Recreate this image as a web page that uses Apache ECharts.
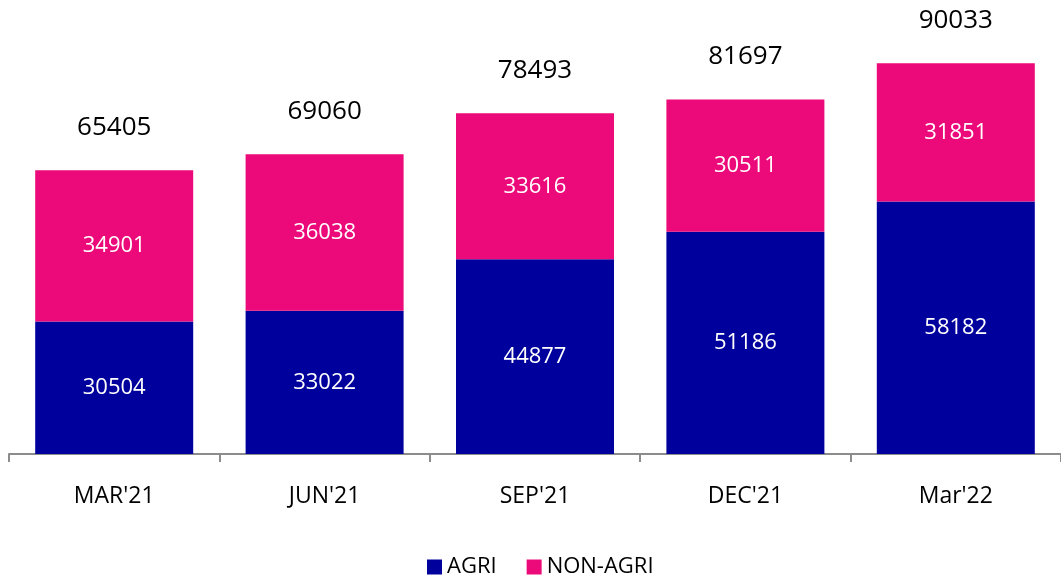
<!DOCTYPE html>
<html>
<head>
<meta charset="utf-8">
<script src="https://cdn.jsdelivr.net/npm/echarts@6/dist/echarts.min.js"></script>
<style>
  html, body { margin: 0; padding: 0; background: #fff; }
  #main { width: 1061px; height: 576px; }
</style>
</head>
<body>
<div id="main"></div>
<script>
// data
var categories = ["MAR'21", "JUN'21", "SEP'21", "DEC'21", "Mar'22"];
var agri = [30504, 33022, 44877, 51186, 58182];
var nonAgri = [34901, 36038, 33616, 30511, 31851];
var totals = [65405, 69060, 78493, 81697, 90033];

var FONT = '"Open Sans", "Noto Sans", sans-serif';

var myChart = echarts.init(document.getElementById('main'));
var option = {
    animation: false,
    textStyle: { fontFamily: FONT },
    grid: { left: 9, right: -5, top: 20, bottom: 122 },
    legend: {
        data: ['AGRI', 'NON-AGRI'],
        left: 422,
        top: 551,
        icon: 'rect',
        itemWidth: 15,
        itemHeight: 15,
        itemGap: 30,
        textStyle: { fontFamily: FONT, fontSize: 22, color: '#000' }
    },
    xAxis: {
        type: 'category',
        data: categories,
        axisLine: { lineStyle: { color: '#8c8c8c', width: 2 } },
        axisTick: { show: true, length: 8, lineStyle: { color: '#8c8c8c', width: 2 } },
        axisLabel: { fontFamily: FONT, fontSize: 23, color: '#000', margin: 31 }
    },
    yAxis: {
        type: 'value',
        min: 0,
        max: 100000,
        show: false,
        splitLine: { show: false }
    },
    series: [
        {
            name: 'AGRI',
            type: 'bar',
            stack: 'total',
            barWidth: 158,
            data: agri,
            itemStyle: { color: '#00009c' },
            label: { show: true, position: 'inside', fontFamily: FONT, fontSize: 22, color: '#fff' }
        },
        {
            name: 'NON-AGRI',
            type: 'bar',
            stack: 'total',
            barWidth: 158,
            data: nonAgri,
            itemStyle: { color: '#ec0a7a' },
            label: { show: true, position: 'inside', fontFamily: FONT, fontSize: 22, color: '#fff' }
        },
        {
            name: 'Total',
            type: 'scatter',
            data: totals,
            symbolSize: 1,
            itemStyle: { color: '#fff', opacity: 0 },
            silent: true,
            label: { show: true, position: 'top', distance: 29, fontFamily: FONT, fontSize: 26, color: '#000', opacity: 1 }
        }
    ]
};
myChart.setOption(option);
</script>
</body>
</html>
